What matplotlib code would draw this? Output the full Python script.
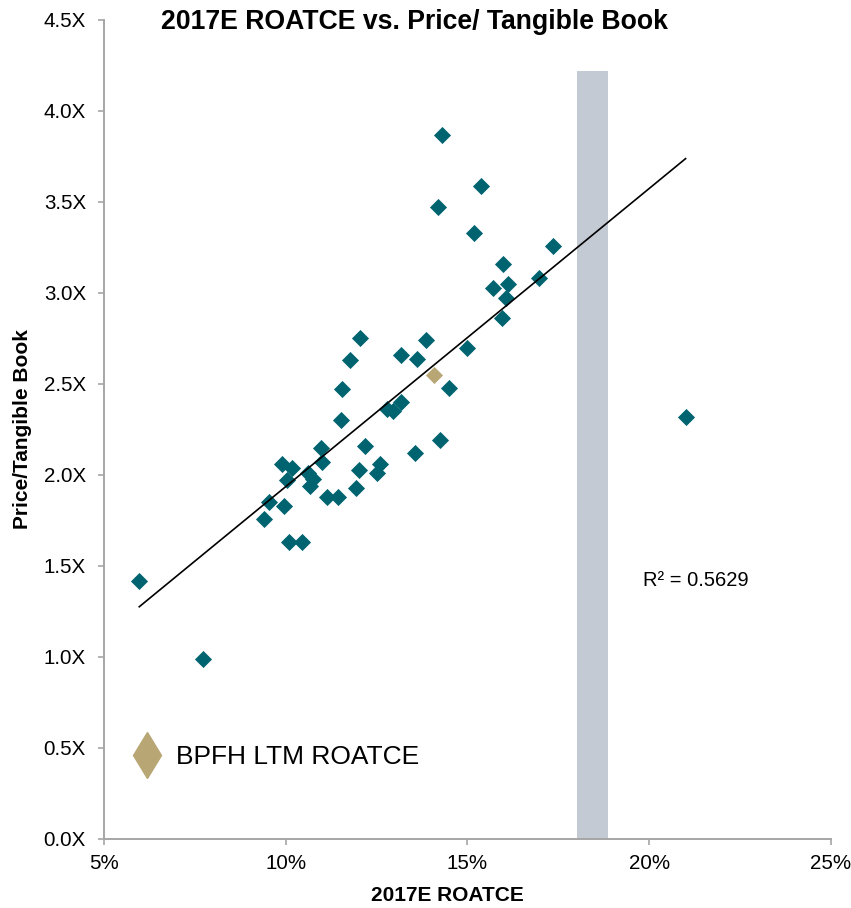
import numpy as np
import matplotlib
matplotlib.use("Agg")
import matplotlib.pyplot as plt
from matplotlib.lines import Line2D
from matplotlib.ticker import FuncFormatter, MultipleLocator

plt.rcParams["font.family"] = ["Liberation Sans", "DejaVu Sans"]

# peers: 2017E ROATCE (%) vs price / tangible book (x)
peer_roatce = [5.97, 7.72, 9.40, 9.55, 9.96, 9.91, 10.16, 10.04, 10.10, 10.45,
               10.62, 10.76, 10.67, 10.96, 11.01, 11.13, 11.45, 11.51, 11.56, 11.77,
               12.04, 11.92, 12.02, 12.18, 12.50, 12.59, 12.78, 12.96, 13.17, 13.17,
               13.60, 13.85, 13.56, 14.24, 14.49, 14.99, 14.19, 14.31, 15.17, 15.38,
               15.71, 15.96, 15.97, 16.06, 16.11, 16.98, 17.34, 21.00]
peer_ptbv = [1.42, 0.99, 1.76, 1.85, 1.83, 2.06, 2.04, 1.97, 1.63, 1.63,
             2.01, 1.98, 1.94, 2.15, 2.07, 1.88, 1.88, 2.30, 2.47, 2.63,
             2.75, 1.93, 2.03, 2.16, 2.01, 2.06, 2.36, 2.35, 2.40, 2.66,
             2.64, 2.74, 2.12, 2.19, 2.48, 2.70, 3.47, 3.87, 3.33, 3.59,
             3.03, 2.86, 3.16, 2.97, 3.05, 3.08, 3.26, 2.32]

bpfh_roatce = [14.09]
bpfh_ptbv = [2.55]

# shaded band (LTM ROATCE range)
band_start = 18.0
band_width = 0.87
band_height = 4.22

r2_label = "R² = 0.5629"

teal = "#006470"
gold = "#B8A774"
band_color = "#C3CAD4"
axis_gray = "#A6A6A6"

fig = plt.figure(figsize=(8.51, 9.08), dpi=100)
ax = fig.add_axes([0.1222, 0.0760, 0.8543, 0.9020])

ax.bar(band_start, band_height, width=band_width, align="edge",
       color=band_color, zorder=1)
ax.scatter(peer_roatce, peer_ptbv, marker="D", s=76, color=teal,
           linewidths=0, zorder=3)
ax.scatter(bpfh_roatce, bpfh_ptbv, marker="D", s=76, color=gold,
           linewidths=0, zorder=3)

slope, intercept = np.polyfit(peer_roatce, peer_ptbv, 1)
xs = np.array([min(peer_roatce), max(peer_roatce)])
ax.plot(xs, slope * xs + intercept, color="black", lw=1.2, zorder=4)

ax.text(19.82, 1.392, r2_label, fontsize=14.5, ha="left", va="baseline")

ax.set_xlim(5, 25)
ax.set_ylim(0, 4.5)
ax.xaxis.set_major_locator(MultipleLocator(5))
ax.yaxis.set_major_locator(MultipleLocator(0.5))
ax.xaxis.set_major_formatter(FuncFormatter(lambda v, p: f"{v:.0f}%"))
ax.yaxis.set_major_formatter(FuncFormatter(lambda v, p: f"{v:.1f}X"))

for side in ["top", "right"]:
    ax.spines[side].set_visible(False)
for side in ["left", "bottom"]:
    ax.spines[side].set_color(axis_gray)
    ax.spines[side].set_linewidth(1.4)
ax.tick_params(axis="both", color=axis_gray, width=1.2, length=4.5,
               labelsize=14.8, labelcolor="black")
ax.tick_params(axis="x", pad=6)
ax.tick_params(axis="y", pad=8.5)

ax.set_xlabel("2017E ROATCE", fontsize=15, fontweight="bold")
ax.set_ylabel("Price/Tangible Book", fontsize=15, fontweight="bold")
ax.xaxis.set_label_coords(0.472, -0.057)
ax.yaxis.set_label_coords(-0.099, 0.5)

fig.text(414 / 851, 1 - 29 / 908, "2017E ROATCE vs. Price/ Tangible Book",
         fontsize=19.2, fontweight="bold", ha="center", va="baseline")

handle = Line2D([], [], marker="d", color=gold, linestyle="none", markersize=23)
ax.legend([handle], ["BPFH LTM ROATCE"], loc="lower left",
          bbox_to_anchor=(0.027, 0.072), frameon=False, fontsize=19,
          handlelength=1.0, handletextpad=0.6, borderaxespad=0)

fig.savefig("out.png", dpi=100)
